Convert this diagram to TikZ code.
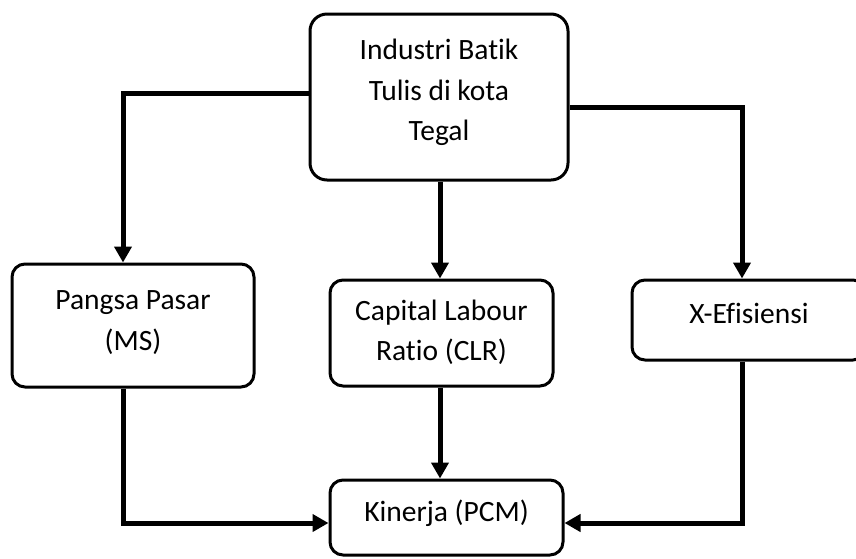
\documentclass[tikz,border=0pt]{standalone}
\usepackage{fontspec}
\setmainfont{Carlito}[Ligatures={NoCommon}]
\usetikzlibrary{arrows.meta}
\tikzset{
  box/.style={draw=black, line width=3pt, rounded corners=13pt, fill=white, inner sep=0pt},
  txt/.style={align=center, inner sep=0pt, font=\fontsize{29.5}{40.5}\selectfont},
  conn/.style={draw=black, line width=5pt, -{Triangle[length=16pt,width=17pt]}}
}
\begin{document}
\begin{tikzpicture}[x=1pt,y=-1pt]
\useasboundingbox (0,0) rectangle (856,558);
\node[box, rounded corners=17pt, minimum width=258pt, minimum height=166pt,
  label={[txt,yshift=4.5pt]center:Industri Batik\\Tulis di kota\\Tegal}] (top) at (439,97) {};
\node[box, minimum width=242pt, minimum height=123pt,
  label={[txt,yshift=3pt]center:Pangsa Pasar\\(MS)}] (ms) at (133,325.5) {};
\node[box, minimum width=223pt, minimum height=106pt,
  label={[txt,yshift=0.5pt]center:Capital Labour\\Ratio (CLR)}] (clr) at (441.5,333) {};
\node[box, minimum width=234pt, minimum height=80pt,
  label={[txt,yshift=6.5pt]center:X-Efisiensi}] (xe) at (749,320) {};
\node[box, minimum width=233pt, minimum height=75pt,
  label={[txt,yshift=4.5pt]center:Kinerja (PCM)}] (pcm) at (446.5,517.5) {};
\draw[conn] ([yshift=4pt]top.west) -| ([xshift=-10pt]ms.north);
\draw[conn] ([yshift=-10pt]top.east) -| ([xshift=-7pt]xe.north);
\draw[conn] ([xshift=1pt]top.south) -- ([xshift=1pt]top.south |- clr.north);
\draw[conn] ([xshift=-1.5pt]clr.south) -- ([xshift=-1.5pt]clr.south |- pcm.north);
\draw[conn] ([xshift=-10pt]ms.south) |- ([yshift=-5.5pt]pcm.west);
\draw[conn] ([xshift=-7pt]xe.south) |- ([yshift=-5.5pt]pcm.east);
\end{tikzpicture}
\end{document}
